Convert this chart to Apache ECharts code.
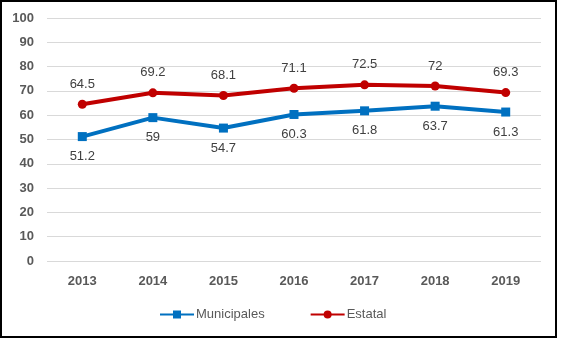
<!DOCTYPE html>
<html><head><meta charset="utf-8">
<script src="https://cdn.jsdelivr.net/npm/echarts@6/dist/echarts.min.js"></script>
<style>html,body{margin:0;padding:0;background:#fff}#c{width:561px;height:342px}</style>
</head><body><div id="c"></div>
<script>
const categories = ['2013','2014','2015','2016','2017','2018','2019'];
const municipales = [51.2, 59, 54.7, 60.3, 61.8, 63.7, 61.3];
const estatal = [64.5, 69.2, 68.1, 71.1, 72.5, 72, 69.3];
const yTicks = {min: 0, max: 100, interval: 10};

const chart = echarts.init(document.getElementById('c'), null, {renderer: 'canvas'});
const font = '"Liberation Sans", Arial, sans-serif';
chart.setOption({
  animation: false,
  textStyle: {fontFamily: font},
  graphic: [{type: 'rect', shape: {x: 1, y: 1, width: 555, height: 336}, style: {fill: null, stroke: '#000', lineWidth: 2}, silent: true}],
  grid: {left: 47, right: 20, top: 18, bottom: 81},
  xAxis: {
    type: 'category', data: categories, boundaryGap: true,
    axisLine: {show: false}, axisTick: {show: false},
    axisLabel: {color: '#595959', fontWeight: 'bold', fontSize: 13, margin: 14, fontFamily: font}
  },
  yAxis: {
    type: 'value', min: yTicks.min, max: yTicks.max, interval: yTicks.interval,
    axisLine: {show: false}, axisTick: {show: false},
    axisLabel: {color: '#595959', fontWeight: 'bold', fontSize: 13, margin: 13, fontFamily: font},
    splitLine: {lineStyle: {color: '#d9d9d9', width: 1}}
  },
  legend: {
    bottom: 16, left: 154, itemGap: 45, itemWidth: 34, itemHeight: 10,
    textStyle: {color: '#595959', fontSize: 13, fontFamily: font, padding: [0, 0, 0, -3]},
    data: ['Municipales', 'Estatal']
  },
  series: [
    {name: 'Municipales', type: 'line', data: municipales, symbol: 'rect', symbolSize: 9,
     lineStyle: {color: '#0070C0', width: 4}, itemStyle: {color: '#0070C0'},
     label: {show: true, position: 'bottom', distance: 9, color: '#404040', fontSize: 13, fontFamily: font}},
    {name: 'Estatal', type: 'line', data: estatal, symbol: 'circle', symbolSize: 9,
     lineStyle: {color: '#C00000', width: 4}, itemStyle: {color: '#C00000'},
     label: {show: true, position: 'top', distance: 9, color: '#404040', fontSize: 13, fontFamily: font}}
  ]
});
</script></body></html>
